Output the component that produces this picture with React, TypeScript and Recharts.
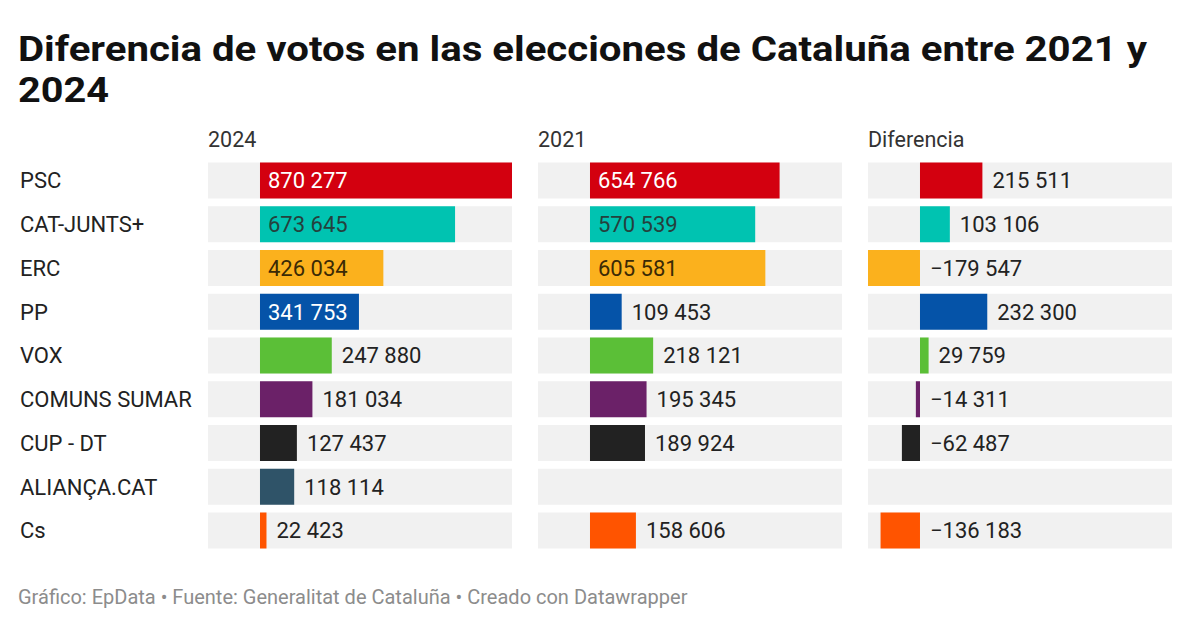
import React from 'react';
import { BarChart, Bar, XAxis, YAxis, LabelList, Cell } from 'recharts';

const categories = ['PSC', 'CAT-JUNTS+', 'ERC', 'PP', 'VOX', 'COMUNS SUMAR', 'CUP - DT', 'ALIANÇA.CAT', 'Cs'];
const votes2024: (number | null)[] = [870277, 673645, 426034, 341753, 247880, 181034, 127437, 118114, 22423];
const votes2021: (number | null)[] = [654766, 570539, 605581, 109453, 218121, 195345, 189924, null, 158606];
const diferencia: (number | null)[] = [215511, 103106, -179547, 232300, 29759, -14311, -62487, null, -136183];
const partyColors = ['#d3000f', '#00c3b1', '#fbb11d', '#0553a8', '#5bbf37', '#6b2168', '#222222', '#2f5368', '#ff5400'];
const insideTextColors = ['#ffffff', '#24413d', '#3b2a05', '#ffffff', '#ffffff', '#ffffff', '#ffffff', '#ffffff', '#ffffff'];
const panelTitles = ['2024', '2021', 'Diferencia'];
const titleLines = ['Diferencia de votos en las elecciones de Cataluña entre 2021 y', '2024'];
const footerText = 'Gráfico: EpData • Fuente: Generalitat de Cataluña • Creado con Datawrapper';
const xDomain: [number, number] = [-179547, 870277];

const FONT = 'Roboto, "Noto Sans", sans-serif';
const LABEL_SIZE = 22;

const fmt = (v: number) => {
  const s = Math.abs(v).toString().replace(/\B(?=(\d{3})+(?!\d))/g, '\u00a0');
  return (v < 0 ? '\u2212' : '') + s;
};

const makeRows = (values: (number | null)[]) =>
  categories.map((name, i) => ({ name, value: values[i], bg: xDomain }));

const makeLabel = (values: (number | null)[]) => (props: any) => {
  const { x, y, width, height, value } = props;
  const v = typeof value === 'number' ? value : Array.isArray(value) ? value[1] : null;
  if (v === null || v === undefined || Number.isNaN(v)) return null;
  const idx = values.indexOf(v);
  const x0 = Number(x);
  const w = Number(width);
  const left = Math.min(x0, x0 + w);
  const right = Math.max(x0, x0 + w);
  const barW = right - left;
  const cy = Number(y) + Number(height) / 2;
  let tx: number;
  let fill = '#222222';
  if (v < 0) {
    tx = right + 10;
  } else if (barW > 95) {
    tx = left + 8;
    fill = insideTextColors[idx] ?? '#ffffff';
  } else {
    tx = right + 10;
  }
  return (
    <text x={tx} y={cy} dy="0.36em" fill={fill} fontSize={LABEL_SIZE} fontFamily={FONT} textAnchor="start">
      {fmt(v)}
    </text>
  );
};

const CategoryTick = (props: any) => {
  const { y, payload } = props;
  return (
    <text x={20} y={y} dy="0.36em" fill="#222222" fontSize={LABEL_SIZE} fontFamily={FONT} textAnchor="start">
      {payload.value}
    </text>
  );
};

const Panel = ({ values, width, showCategories }: { values: (number | null)[]; width: number; showCategories: boolean }) => {
  const rows = makeRows(values);
  return (
    <BarChart
      layout="vertical"
      width={width}
      height={410}
      data={rows}
      margin={{ top: 8.5, bottom: 7.75, left: 0, right: 0 }}
      barSize={36}
      barGap={-36}
    >
      <XAxis type="number" domain={xDomain} hide allowDataOverflow />
      <YAxis
        type="category"
        dataKey="name"
        hide={!showCategories}
        width={showCategories ? 208 : 0}
        axisLine={false}
        tickLine={false}
        tick={<CategoryTick />}
        interval={0}
      />
      <Bar dataKey="bg" fill="#f1f1f1" isAnimationActive={false} />
      <Bar dataKey="value" isAnimationActive={false}>
        {rows.map((r, i) => (
          <Cell key={r.name} fill={partyColors[i]} />
        ))}
        <LabelList dataKey="value" content={makeLabel(values)} />
      </Bar>
    </BarChart>
  );
};

export default function App() {
  return (
    <div
      style={{
        position: 'absolute',
        left: 0,
        top: 0,
        width: 1200,
        height: 627,
        background: '#ffffff',
        overflow: 'hidden',
        fontFamily: FONT,
      }}
    >
      <svg width={1200} height={627} style={{ position: 'absolute', left: 0, top: 0 }}>
        <text x={18} y={61} fontSize={35} fontWeight={700} fill="#111111" fontFamily={FONT} textLength={1129} lengthAdjust="spacingAndGlyphs">
          {titleLines[0]}
        </text>
        <text x={18} y={102} fontSize={35} fontWeight={700} fill="#111111" fontFamily={FONT} textLength={91} lengthAdjust="spacingAndGlyphs">
          {titleLines[1]}
        </text>
        {panelTitles.map((t, i) => (
          <text key={t} x={[208, 538, 868][i]} y={147} fontSize={21.5} fill="#333333" fontFamily={FONT}>
            {t}
          </text>
        ))}
        <text x={18} y={604} fontSize={20} fill="#8c8c8c" fontFamily={FONT}>
          {footerText}
        </text>
      </svg>
      <div style={{ position: 'absolute', left: 0, top: 150 }}>
        <Panel values={votes2024} width={512} showCategories={true} />
      </div>
      <div style={{ position: 'absolute', left: 538, top: 150 }}>
        <Panel values={votes2021} width={304} showCategories={false} />
      </div>
      <div style={{ position: 'absolute', left: 868, top: 150 }}>
        <Panel values={diferencia} width={304} showCategories={false} />
      </div>
    </div>
  );
}
